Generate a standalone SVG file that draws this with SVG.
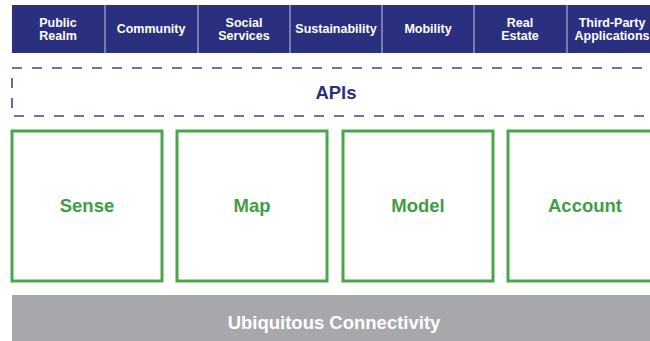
<svg xmlns="http://www.w3.org/2000/svg" width="650" height="341" viewBox="0 0 650 341">
<style>
.cat{fill:#2b2f80}
.div{stroke:#c8cae0;stroke-width:1}
.ct{font-family:"Liberation Sans",Arial,sans-serif;font-weight:bold;font-size:12.5px;fill:#ffffff;text-anchor:middle}
.box{fill:#ffffff;stroke:#4ba54b;stroke-width:3}
.bt{font-family:"Liberation Sans",Arial,sans-serif;font-weight:bold;font-size:18.5px;fill:#3f9e44;text-anchor:middle}
</style>
<rect width="650" height="341" fill="#ffffff"/>
<g id="categories">
<rect class="cat" x="12" y="5" width="645" height="48"/>
<g class="div"><line x1="105" y1="5" x2="105" y2="53"/><line x1="198" y1="5" x2="198" y2="53"/><line x1="290" y1="5" x2="290" y2="53"/><line x1="382" y1="5" x2="382" y2="53"/><line x1="474" y1="5" x2="474" y2="53"/><line x1="567" y1="5" x2="567" y2="53"/></g>
<g id="public-realm"><text class="ct" x="58" y="27">Public</text><text class="ct" x="58" y="40">Realm</text></g>
<g id="community"><text class="ct" x="151" y="33">Community</text></g>
<g id="social-services"><text class="ct" x="244" y="27">Social</text><text class="ct" x="244" y="40">Services</text></g>
<g id="sustainability"><text class="ct" x="336" y="33">Sustainability</text></g>
<g id="mobility"><text class="ct" x="428" y="33">Mobility</text></g>
<g id="real-estate"><text class="ct" x="520" y="27">Real</text><text class="ct" x="520" y="40">Estate</text></g>
<g id="third-party"><text class="ct" x="612" y="27">Third-Party</text><text class="ct" x="612" y="40">Applications</text></g>
</g>
<g id="apis">
<path d="M662,68 H12 V116 H662" fill="none" stroke="#3f4393" stroke-width="1.6" stroke-dasharray="10,10"/>
<text x="336" y="99" font-family="'Liberation Sans',Arial,sans-serif" font-weight="bold" font-size="18.5" fill="#2b2f80" text-anchor="middle">APIs</text>
</g>
<g id="sense"><rect class="box" x="12" y="131" width="150" height="150"/><text class="bt" x="87" y="212">Sense</text></g>
<g id="map"><rect class="box" x="177" y="131" width="150" height="150"/><text class="bt" x="252" y="212">Map</text></g>
<g id="model"><rect class="box" x="343" y="131" width="150" height="150"/><text class="bt" x="418" y="212">Model</text></g>
<g id="account"><rect class="box" x="508" y="131" width="150" height="150"/><text class="bt" x="585" y="212">Account</text></g>
<g id="connectivity">
<rect x="12" y="295" width="645" height="50" fill="#a7a8ab"/>
<text x="334" y="329" font-family="'Liberation Sans',Arial,sans-serif" font-weight="bold" font-size="18.5" fill="#ffffff" text-anchor="middle">Ubiquitous Connectivity</text>
</g>
<g id="connectors"/>
</svg>
